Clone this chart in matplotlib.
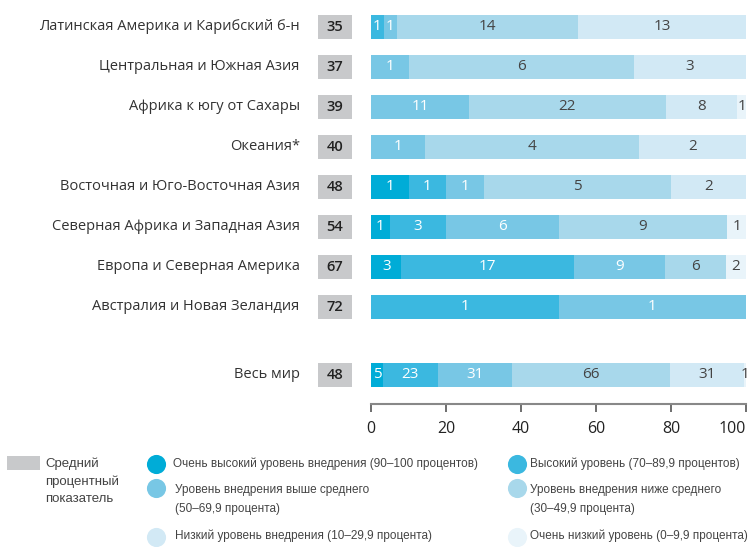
import numpy as np
import matplotlib
matplotlib.use("Agg")
import matplotlib.pyplot as plt

plt.rcParams['font.family'] = ['Open Sans', 'DejaVu Sans']

regions = [
    "Латинская Америка и Карибский б-н",
    "Центральная и Южная Азия",
    "Африка к югу от Сахары",
    "Океания*",
    "Восточная и Юго-Восточная Азия",
    "Северная Африка и Западная Азия",
    "Европа и Северная Америка",
    "Австралия и Новая Зеландия",
    "Весь мир",
]
averages = [35, 37, 39, 40, 48, 54, 67, 72, 48]

# number of countries per implementation level
very_high = [0, 0, 0, 0, 1, 1, 3, 0, 5]
high = [1, 0, 0, 0, 1, 3, 17, 1, 23]
above_avg = [1, 1, 11, 1, 1, 6, 9, 1, 31]
below_avg = [14, 6, 22, 4, 5, 9, 6, 0, 66]
low = [13, 3, 8, 2, 2, 0, 0, 0, 31]
very_low = [0, 0, 1, 0, 0, 1, 2, 0, 1]

levels = [very_high, high, above_avg, below_avg, low, very_low]
colors = ['#00acd7', '#3bb8e0', '#78c7e5', '#a8d8eb', '#d2e9f5', '#e9f4fa']
text_colors = ['white', 'white', 'white', '#444444', '#444444', '#444444']
legend_labels = [
    "Очень высокий уровень внедрения (90–100 процентов)",
    "Высокий уровень (70–89,9 процентов)",
    "Уровень внедрения выше среднего\n(50–69,9 процента)",
    "Уровень внедрения ниже среднего\n(30–49,9 процента)",
    "Низкий уровень внедрения (10–29,9 процента)",
    "Очень низкий уровень (0–9,9 процента)",
]

W, H = 751, 547
fig = plt.figure(figsize=(W / 100, H / 100), dpi=100)

# main axes: x 0..100 -> px 371..746, bottom spine at px 404
ax = fig.add_axes([371 / W, 1 - 404 / H, 375 / W, (404 - 7) / H])
ypos = np.array([0, 1, 2, 3, 4, 5, 6, 7, 8.69])
ax.set_xlim(0, 100)
ax.set_ylim(9.425, -0.5)

counts = np.array(levels, dtype=float)
totals = counts.sum(axis=0)
shares = counts / totals * 100
left = np.zeros(len(regions))
for lvl, share, col, tcol in zip(counts, shares, colors, text_colors):
    ax.barh(ypos, share, left=left, height=0.6, color=col, linewidth=0)
    for y, l, s, n in zip(ypos, left, share, lvl):
        if n > 0:
            ax.text(l + s / 2, y, f"{int(n)}", ha='center', va='center',
                    fontsize=11, color=tcol)
    left += share

# gray average boxes and region labels
ax.barh(ypos, 9.1, left=-14.15, height=0.6, color='#c8c9cb', linewidth=0, clip_on=False)
for y, name, a in zip(ypos, regions, averages):
    ax.text(-9.6, y, str(a), ha='center', va='center', fontsize=10.5,
            color='#222222', fontweight='semibold')
    ax.text(-19.0, y, name, ha='right', va='center', fontsize=10.5, color='#333333')

for s in ['top', 'right', 'left']:
    ax.spines[s].set_visible(False)
ax.spines['bottom'].set_color('#888888')
ax.spines['bottom'].set_linewidth(1.5)
ax.set_yticks([])
ax.set_xticks([0, 20, 40, 60, 80, 100])
ax.tick_params(axis='x', length=6, width=1.2, color='#555555', labelsize=11.5,
               labelcolor='#222222', pad=6)
ax.get_xticklabels()[-1].set_horizontalalignment('right')

# legend drawn in pixel coordinates
lg = fig.add_axes([0, 0, 1, 1])
lg.set_xlim(0, W)
lg.set_ylim(H, 0)
lg.axis('off')
leg_font = ['Liberation Sans', 'DejaVu Sans']
lg.add_patch(plt.Rectangle((7, 456), 33, 14, color='#c8c9cb', lw=0))
lg.text(45, 457, "Средний\nпроцентный\nпоказатель", ha='left', va='top', fontsize=9.5,
        color='#444444', family=leg_font, linespacing=1.6)

leg_pos = [(156, 464), (517, 464), (156, 488), (517, 488), (156, 537), (517, 537)]
text_dx = [17, 13, 19, 13, 19, 13]
for (cx, cy), dx, col, lab in zip(leg_pos, text_dx, colors, legend_labels):
    lg.scatter([cx], [cy], s=190, color=col, linewidths=0)
    lg.text(cx + dx, cy - 7 if '\n' not in lab else cy - 4, lab, ha='left', va='top',
            fontsize=8.5, color='#444444', family=leg_font, linespacing=1.8)

fig.savefig("out.png", dpi=100)
